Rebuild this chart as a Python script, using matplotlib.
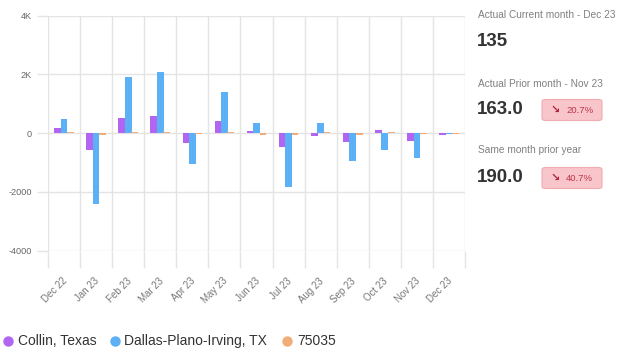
import matplotlib
matplotlib.use("Agg")
import matplotlib.pyplot as plt
import numpy as np
from matplotlib.patches import FancyBboxPatch
from matplotlib.lines import Line2D
import matplotlib.transforms as mtransforms

plt.rcParams['font.family'] = ['Liberation Sans', 'DejaVu Sans']

months = ["Dec 22", "Jan 23", "Feb 23", "Mar 23", "Apr 23", "May 23", "Jun 23",
          "Jul 23", "Aug 23", "Sep 23", "Oct 23", "Nov 23", "Dec 23"]
series_names = ["Collin, Texas", "Dallas-Plano-Irving, TX", "75035"]
collin = [190, -580, 530, 590, -320, 420, 60, -460, -90, -290, 100, -260, -60]
dallas = [490, -2400, 1910, 2090, -1050, 1400, 360, -1830, 340, -960, -580, -830, -40]
zip75035 = [30, -60, 50, 50, -30, 40, -60, -60, 40, -50, 40, -40, -40]
yticks = [-4000, -2000, 0, 2000, 4000]
ytick_labels = ["-4000", "-2000", "0", "2K", "4K"]

colors = ["#b265f0", "#5cb0f5", "#f2ad76"]

stats_labels = ["Actual Current month - Dec 23", "Actual Prior month - Nov 23", "Same month prior year"]
stats_values = ["135", "163.0", "190.0"]
stats_changes = [None, "20.7%", "40.7%"]

W, H = 617, 355
fig = plt.figure(figsize=(W / 100, H / 100), dpi=100)

def fx(px):
    return px / W

def fy(py):
    return 1 - py / H

ax = fig.add_axes([fx(48), fy(250.7), fx(465) - fx(48), fy(15.7) - fy(250.7)])

x = np.arange(len(months))
bw = 0.21
for vals, off, c in zip([collin, dallas, zip75035], [-0.2, 0.0, 0.2], colors):
    ax.bar(x + off, vals, width=bw, color=c, zorder=3)

ax.set_xlim(-0.5, len(months) - 0.5)
ax.set_ylim(-4000, 4000)
for s in ax.spines.values():
    s.set_visible(False)

gridc = "#e4e4e4"
ax.set_yticks(yticks)
ax.set_yticklabels(ytick_labels)
ax.tick_params(axis='y', length=8, color=gridc, width=1, pad=3.6, labelsize=6.6, labelcolor="#666666")
ax.yaxis.grid(True, color=gridc, linewidth=1, zorder=0)

ax.set_xticks(x)
ax.set_xticklabels(months, rotation=45, ha='right', va='top', rotation_mode='anchor')
ax.tick_params(axis='x', which='major', length=0, pad=18, labelsize=7, labelcolor="#777777")
ax.set_xticks(np.arange(-0.5, len(months)), minor=True)
ax.tick_params(axis='x', which='minor', length=12.5, color=gridc, width=1)
ax.xaxis.grid(True, which='minor', color=gridc, linewidth=1, zorder=0)
offset = mtransforms.ScaledTranslation(-2 / 100, 0, fig.dpi_scale_trans)
for lbl in ax.get_xticklabels():
    lbl.set_transform(lbl.get_transform() + offset)

# legend
leg_y = fy(341)
leg_items = [(8, 18), (115, 124), (287, 297)]
for (cx, tx), name, c in zip(leg_items, series_names, colors):
    fig.add_artist(Line2D([fx(cx)], [leg_y], marker='o', markersize=7.5, color=c,
                          markeredgewidth=0, transform=fig.transFigure))
    fig.text(fx(tx), leg_y, name, fontsize=10, color="#333333", va='center', ha='left')

# stats panel
label_y = [15, 84, 150]
value_y = [41, 109, 177]
for lab, val, chg, ly, vy in zip(stats_labels, stats_values, stats_changes, label_y, value_y):
    fig.text(fx(478), fy(ly), lab, fontsize=7.3, color="#808080", va='center', ha='left')
    fig.text(fx(477), fy(vy), val, fontsize=13.5, fontweight='bold', color="#333333",
             va='center', ha='left')
    if chg is not None:
        bx0, bx1 = 542, 602
        by0, by1 = vy - 9.5, vy + 11.5
        box = FancyBboxPatch((fx(bx0), fy(by1)), fx(bx1) - fx(bx0), fy(by0) - fy(by1),
                             boxstyle="round,pad=0,rounding_size=0.006",
                             facecolor="#f8c5ca", edgecolor="#f1aab2", linewidth=0.8,
                             transform=fig.transFigure)
        fig.add_artist(box)
        fig.text(fx(555), fy(vy + 1), "\u2198", fontsize=8, fontweight='bold', color="#b3223b",
                 va='center', ha='center', family=['DejaVu Sans'])
        fig.text(fx(566), fy(vy + 1.5), chg, fontsize=6.8, color="#c0344a", va='center', ha='left')

fig.savefig("out.png", dpi=100)
